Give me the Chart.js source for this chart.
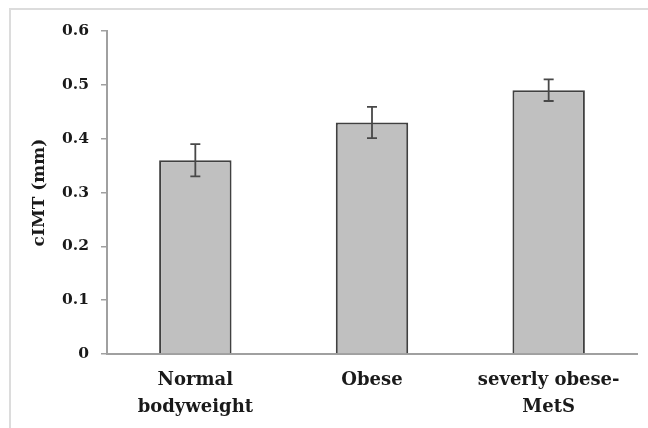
<!DOCTYPE html>
<html>
<head>
<meta charset="utf-8">
<script src="https://cdn.jsdelivr.net/npm/chart.js@4/dist/chart.umd.min.js"></script>
<style>
  html, body { margin: 0; padding: 0; background: #ffffff; }
  #c { display: block; }
</style>
</head>
<body>
<canvas id="c" width="648" height="428"></canvas>
<script>
// Groups and mean carotid intima-media thickness with error (mm)
const categories = [["Normal", "bodyweight"], ["Obese"], ["severly obese-", "MetS"]];
const meanValues = [0.36, 0.43, 0.49];
const errorValues = [0.03, 0.029, 0.02];
const yTicks = [0, 0.1, 0.2, 0.3, 0.4, 0.5, 0.6];

const serif = "'DejaVu Serif', 'Liberation Serif', serif";

// Light frame around the chart
const framePlugin = {
  id: 'frame',
  beforeDraw(chart) {
    const ctx = chart.ctx;
    ctx.save();
    ctx.strokeStyle = '#dcdcdc';
    ctx.lineWidth = 2;
    ctx.beginPath();
    ctx.moveTo(10, 428);
    ctx.lineTo(10, 9);
    ctx.lineTo(648, 9);
    ctx.stroke();
    ctx.restore();
  }
};

// Error bars with caps drawn from the value arrays through the scales
const errorBarPlugin = {
  id: 'errorBars',
  afterDatasetsDraw(chart) {
    const ctx = chart.ctx;
    const xs = chart.scales.x;
    const ys = chart.scales.y;
    ctx.save();
    ctx.strokeStyle = '#484848';
    ctx.lineWidth = 1.8;
    meanValues.forEach((v, i) => {
      const x = xs.getPixelForValue(i);
      const yHi = ys.getPixelForValue(v + errorValues[i]);
      const yLo = ys.getPixelForValue(v - errorValues[i]);
      const cap = 5;
      ctx.beginPath();
      ctx.moveTo(x, yHi); ctx.lineTo(x, yLo);
      ctx.moveTo(x - cap, yHi); ctx.lineTo(x + cap, yHi);
      ctx.moveTo(x - cap, yLo); ctx.lineTo(x + cap, yLo);
      ctx.stroke();
    });
    ctx.restore();
  }
};

new Chart(document.getElementById('c'), {
  type: 'bar',
  data: {
    labels: categories,
    datasets: [{
      data: meanValues,
      backgroundColor: '#c0c0c0',
      borderColor: '#404040',
      borderWidth: 2,
      borderSkipped: 'bottom',
      barPercentage: 0.41,
      categoryPercentage: 1.0
    }]
  },
  options: {
    responsive: false,
    animation: false,
    devicePixelRatio: 1,
    layout: { padding: { left: 29, right: 11, top: 31, bottom: 0 } },
    plugins: {
      legend: { display: false },
      tooltip: { enabled: false }
    },
    scales: {
      x: {
        afterFit(scale) { scale.height = 74; },
        grid: { display: false, drawTicks: false },
        border: { display: true, color: '#a0a0a0', width: 2 },
        ticks: {
          color: '#1a1a1a',
          padding: 13,
          maxRotation: 0,
          autoSkip: false,
          font: { family: serif, size: 18, weight: 'bold', lineHeight: 1.5 }
        }
      },
      y: {
        min: 0,
        max: 0.6,
        afterBuildTicks(scale) {
          scale.ticks = yTicks.map(v => ({ value: v }));
        },
        afterFit(scale) { scale.width = 78; },
        grid: {
          drawOnChartArea: false,
          drawTicks: true,
          tickLength: 6,
          color: '#a0a0a0',
          lineWidth: 1.5
        },
        border: { display: true, color: '#a0a0a0', width: 2 },
        title: {
          display: true,
          text: 'cIMT (mm)',
          color: '#1a1a1a',
          padding: 0,
          font: { family: serif, size: 17, weight: 'bold' }
        },
        ticks: {
          color: '#1a1a1a',
          padding: 12,
          callback: v => (v === 0 ? '0' : v.toFixed(1)),
          font: { family: serif, size: 15.5, weight: 'bold' }
        }
      }
    }
  },
  plugins: [framePlugin, errorBarPlugin]
});
</script>
</body>
</html>
